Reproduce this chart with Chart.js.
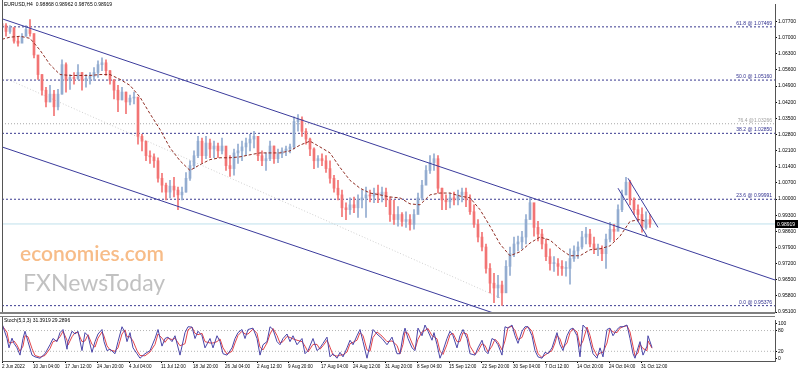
<!DOCTYPE html>
<html>
<head>
<meta charset="utf-8">
<script src="https://cdn.jsdelivr.net/npm/chart.js@4.4.0/dist/chart.umd.min.js"></script>
<style>
  html, body { margin: 0; padding: 0; background: #fff; }
  #wrap { position: relative; width: 798px; height: 372px; overflow: hidden; }
  #main { position: absolute; left: 0; top: 0; }
  #stoch { position: absolute; left: 0; top: 316px; }
</style>
</head>
<body>
<div id="wrap">
  <canvas id="main" width="798" height="316"></canvas>
  <canvas id="stoch" width="798" height="56"></canvas>
</div>
<script>
// EURUSD H4, one candle here = 4 bars of the original chart

const highs = [
  1.0765,1.0761,1.0752,1.0727,1.0706,1.0718,1.0752,1.0778,1.0706,1.0621,
  1.0540,1.0485,1.0493,1.0472,1.0476,1.0604,1.0591,1.0540,1.0549,1.0583,
  1.0549,1.0540,1.0549,1.0570,1.0600,1.0612,1.0604,1.0557,1.0519,1.0493,
  1.0485,1.0464,1.0451,1.0464,1.0442,1.0281,1.0251,1.0209,1.0196,1.0179,
  1.0111,1.0069,1.0081,1.0094,1.0052,1.0052,1.0115,1.0166,1.0209,1.0272,
  1.0264,1.0272,1.0260,1.0251,1.0243,1.0264,1.0217,1.0188,1.0217,1.0238,
  1.0251,1.0264,1.0281,1.0294,1.0251,1.0209,1.0200,1.0251,1.0230,1.0217,
  1.0222,1.0230,1.0238,1.0357,1.0366,1.0357,1.0306,1.0264,1.0222,1.0188,
  1.0196,1.0188,1.0166,1.0103,1.0081,1.0039,0.9984,1.0005,1.0009,1.0018,
  1.0039,1.0052,1.0039,1.0047,1.0060,1.0052,1.0047,1.0009,0.9996,0.9967,
  0.9941,0.9945,0.9933,0.9954,1.0026,1.0081,1.0145,1.0188,1.0196,1.0188,
  1.0047,1.0018,1.0026,1.0030,1.0039,1.0047,1.0047,1.0018,0.9975,0.9911,
  0.9856,0.9805,0.9720,0.9678,0.9669,0.9644,0.9733,0.9792,0.9835,0.9839,
  0.9860,0.9933,1.0005,0.9975,0.9903,0.9869,0.9826,0.9784,0.9750,0.9742,
  0.9733,0.9729,0.9784,0.9797,0.9814,0.9860,0.9877,0.9869,0.9835,0.9805,
  0.9797,0.9848,0.9899,0.9890,0.9975,1.0039,1.0094,1.0081,1.0005,0.9975,
  0.9962,0.9945,0.9933
];
const lows = [
  1.0731,1.0706,1.0718,1.0676,1.0663,1.0685,1.0706,1.0706,1.0612,1.0519,
  1.0451,1.0400,1.0421,1.0362,1.0387,1.0455,1.0464,1.0476,1.0498,1.0519,
  1.0472,1.0485,1.0498,1.0515,1.0527,1.0557,1.0536,1.0498,1.0434,1.0379,
  1.0430,1.0370,1.0408,1.0413,1.0238,1.0209,1.0166,1.0154,1.0137,1.0073,
  1.0030,0.9996,1.0005,1.0009,0.9954,0.9996,1.0030,1.0081,1.0132,1.0179,
  1.0158,1.0175,1.0179,1.0179,1.0179,1.0196,1.0124,1.0098,1.0103,1.0154,
  1.0166,1.0188,1.0209,1.0222,1.0166,1.0145,1.0124,1.0166,1.0154,1.0158,
  1.0179,1.0188,1.0200,1.0217,1.0294,1.0272,1.0238,1.0188,1.0132,1.0137,
  1.0145,1.0115,1.0069,1.0030,0.9996,0.9924,0.9911,0.9933,0.9941,0.9920,
  0.9962,0.9920,0.9988,0.9984,0.9984,0.9988,0.9967,0.9903,0.9890,0.9882,
  0.9882,0.9877,0.9865,0.9869,0.9941,0.9996,1.0069,1.0111,1.0124,1.0026,
  0.9954,0.9954,0.9962,0.9975,0.9975,0.9988,0.9967,0.9933,0.9877,0.9814,
  0.9775,0.9678,0.9593,0.9550,0.9572,0.9538,0.9635,0.9669,0.9750,0.9775,
  0.9784,0.9805,0.9933,0.9839,0.9818,0.9784,0.9733,0.9691,0.9686,0.9669,
  0.9669,0.9665,0.9631,0.9729,0.9742,0.9784,0.9805,0.9792,0.9763,0.9754,
  0.9733,0.9699,0.9814,0.9818,0.9877,0.9945,1.0018,0.9975,0.9933,0.9903,
  0.9856,0.9869,0.9877
];
const closes = [
  1.0752,1.0727,1.0744,1.0685,1.0676,1.0706,1.0735,1.0718,1.0625,1.0540,
  1.0472,1.0421,1.0455,1.0400,1.0455,1.0583,1.0515,1.0527,1.0523,1.0549,
  1.0515,1.0523,1.0532,1.0549,1.0583,1.0591,1.0557,1.0515,1.0472,1.0430,
  1.0464,1.0421,1.0438,1.0442,1.0272,1.0251,1.0188,1.0183,1.0166,1.0090,
  1.0060,1.0030,1.0056,1.0039,1.0018,1.0030,1.0090,1.0145,1.0188,1.0251,
  1.0188,1.0243,1.0217,1.0230,1.0209,1.0230,1.0145,1.0132,1.0200,1.0209,
  1.0226,1.0243,1.0260,1.0272,1.0188,1.0166,1.0175,1.0230,1.0175,1.0196,
  1.0209,1.0217,1.0226,1.0336,1.0345,1.0294,1.0260,1.0217,1.0166,1.0175,
  1.0166,1.0132,1.0090,1.0047,1.0018,0.9962,0.9954,0.9975,0.9962,0.9996,
  1.0005,1.0018,1.0013,1.0026,1.0018,1.0030,0.9996,0.9933,0.9911,0.9933,
  0.9903,0.9911,0.9890,0.9933,1.0005,1.0060,1.0124,1.0158,1.0175,1.0047,
  0.9996,0.9988,1.0005,0.9996,1.0018,1.0030,0.9996,0.9945,0.9890,0.9835,
  0.9792,0.9699,0.9635,0.9614,0.9627,0.9593,0.9708,0.9763,0.9805,0.9814,
  0.9835,0.9911,0.9984,0.9877,0.9848,0.9805,0.9750,0.9720,0.9720,0.9708,
  0.9699,0.9699,0.9742,0.9775,0.9792,0.9835,0.9848,0.9805,0.9784,0.9784,
  0.9763,0.9826,0.9869,0.9860,0.9954,1.0018,1.0073,0.9996,0.9954,0.9933,
  0.9877,0.9911,0.98919
];
const firstOpen = 1.0761;
const barsPerCandle = 4;

// moving average (dashed brown), read at bar positions
const maBars = [0,8,18,28,38,48,58,68,78,88,98,108,118,128,138,148,158,168,178,188,
  198,208,218,228,238,248,258,268,278,288,298,308,318,328,338,348,358,368,378,388,
  398,408,418,428,438,448,458,468,478,488,498,508,518,528,538,548,558,568,578,588,
  598,608,618,628,638,644];
const maValues = [1.0693,1.0702,1.0706,1.0697,1.0646,1.0583,1.0540,1.0536,1.0536,1.0536,
  1.0540,1.0540,1.0519,1.0493,1.0442,1.0370,1.0302,1.0222,1.0166,1.0124,
  1.0149,1.0171,1.0179,1.0179,1.0183,1.0192,1.0200,1.0200,1.0200,1.0209,
  1.0234,1.0251,1.0226,1.0200,1.0137,1.0081,1.0047,1.0026,1.0018,1.0009,
  1.0005,0.9979,0.9975,1.0018,1.0026,1.0026,1.0013,1.0005,0.9954,0.9882,
  0.9805,0.9754,0.9771,0.9809,0.9835,0.9822,0.9784,0.9754,0.9754,0.9780,
  0.9784,0.9797,0.9839,0.9903,0.9911,0.9903];

// trend lines: [bar0, price0, bar1, price1]
const channelUpper = [0, 1.0782, 773, 0.9649];
const channelLower = [0, 1.0226, 773, 0.9093];
const wedgeA = [616, 1.0047, 645, 0.9839];
const wedgeB = [626, 1.0090, 656, 0.9877];
const fibDiagonal = [6, 1.0519, 498, 0.9572];

// fibonacci levels
const fibLevels = [1.07469, 1.05160, 1.02850, 0.99991, 0.95376];
const fibNames = ['61.8 @ 1.07469', '50.0 @ 1.05160', '38.2 @ 1.02850', '23.6 @ 0.99991', '0.0 @ 0.95376'];
const fibGrayLevel = 1.03266;
const fibGrayName = '76.4 @1.03266';
const lastPrice = 0.98919;

const priceTicks = [1.077,1.070,1.063,1.056,1.049,1.042,1.035,1.028,1.021,1.014,
  1.007,1.000,0.993,0.986,0.979,0.972,0.965,0.958,0.951];

const timeTickBars = [0,31,63,95,127,159,191,223,255,286,319,351,383,415,447,480,511,543,575,607,639];
const timeTickText = ['2 Jun 2022','10 Jun 04:00','17 Jun 12:00','24 Jun 20:00','4 Jul 04:00',
  '11 Jul 12:00','18 Jul 20:00','26 Jul 04:00','2 Aug 12:00','9 Aug 20:00','17 Aug 04:00',
  '24 Aug 12:00','31 Aug 20:00','8 Sep 04:00','15 Sep 12:00','22 Sep 20:00','30 Sep 04:00',
  '7 Oct 12:00','14 Oct 20:00','24 Oct 04:00','31 Oct 12:00'];

// stochastic (5,3,3)
const stochBars = [0,5,7,10,12,15,18,21,23,26, 30,33,38,43,48,51,55,58,61,65,
  66,70,73,76,80,83,86,90,93,96, 100,102,105,108,113,116,120,123,125,128,
  131,135,138,143,148,153,156,160,163,166, 170,173,178,183,186,190,193,196,200,203,
  208,211,215,218,221,225,230,233,236,240, 243,246,251,255,258,261,265,268,271,275,
  278,281,285,288,291,295,300,303,306,311, 315,318,321,325,328,331,335,338,341,345,
  348,351,355,358,361,365,368,371,375,380, 385,390,395,398,401,403,406,410,413,416,
  420,423,426,430,432,435,438,441,445,448, 451,455,458,461,465,468,473,476,480,483,
  486,490,493,496,500,503,506,510,513,516, 520,523,526,530,533,536,540,543,546,550,
  553,555,558,561,565,568,571,575,578,581, 585,588,591,595,598,601,605,608,611,615,
  618,621,625,628,631,633,636,638,641,645, 646,650];
const stochMain = [100,57,30,58,43,30,9,57,78,48, 9,4,0,13,39,57,48,74,83,26,
  48,78,70,78,22,74,65,17,48,70, 83,48,22,26,13,48,91,74,48,74,
  30,13,0,13,22,57,83,35,57,61, 48,65,9,74,91,90,57,78,65,30,
  57,30,65,48,13,9,30,57,74,83, 57,83,87,57,9,39,48,91,83,48,
  39,57,70,48,65,39,57,13,22,57, 22,30,43,61,4,13,0,17,4,30,
  52,39,65,83,48,0,39,83,70,57, 39,61,13,13,65,87,57,30,22,87,
  65,96,78,52,74,39,0,22,57,78, 65,30,65,83,57,13,9,30,52,22,
  13,57,52,39,9,91,87,96,65,43, 78,91,91,65,22,4,0,17,13,30,
  57,74,39,22,65,83,87,65,4,96, 83,48,13,0,30,4,83,87,65,83,
  91,91,96,57,13,0,30,48,9,35, 65,31];
const stochSignal = [95,75,45,45,50,38,20,35,65,62, 28,8,3,8,28,48,52,62,78,52,
  38,62,74,74,48,50,68,40,32,58, 76,64,36,24,20,30,70,82,62,62,
  50,22,8,7,18,40,70,58,46,58, 54,58,36,42,82,90,72,68,72,48,
  44,44,48,56,30,12,20,44,66,78, 70,70,84,72,32,24,44,70,86,66,
  44,48,63,60,56,52,48,35,18,40, 40,26,36,52,32,9,6,9,10,18,
  42,46,52,74,66,24,20,60,76,64, 48,50,37,13,40,76,72,44,26,55,
  76,80,86,65,62,56,20,11,40,68, 72,48,48,74,70,35,11,20,42,37,
  18,35,55,46,24,50,89,92,80,54, 60,85,91,78,44,13,2,9,15,22,
  44,66,56,30,44,74,85,76,34,50, 90,66,30,7,15,17,44,85,76,74,
  87,91,94,76,35,6,15,40,28,22, 50,29];
const stochLevels = [20, 80];
const stochTicks = [0, 20, 80, 100];

Chart.defaults.font.family = '"Liberation Sans", Arial, sans-serif';
Chart.defaults.color = '#000';

const upColor = '#93acd0';
const downColor = '#f27474';
const lineBlue = '#3b3b9c';
const xMax = 773;

const opens = [firstOpen].concat(closes.slice(0, -1));
const candleColors = closes.map((c, i) => c >= opens[i] ? upColor : downColor);
const wickData = highs.map((h, i) => ({ x: i * barsPerCandle, y: [lows[i], h] }));
const bodyData = closes.map((c, i) => ({ x: i * barsPerCandle, y: [opens[i], c] }));

function segment(s) {
  return [{ x: s[0], y: s[1] }, { x: s[2], y: s[3] }];
}
function flat(v) {
  return [{ x: 0, y: v }, { x: xMax, y: v }];
}
function lineSet(data, color, dash, order) {
  return { type: 'line', data: data, borderColor: color, borderWidth: 1, borderDash: dash || [],
    pointRadius: 0, fill: false, tension: 0, order: order };
}

const mainDecor = {
  id: 'mainDecor',
  beforeDatasetsDraw(chart) {
    const ctx = chart.ctx;
    ctx.save();
    ctx.textBaseline = 'alphabetic';
    ctx.font = '600 21px Lato, sans-serif';
    ctx.fillStyle = 'rgba(243,160,85,0.7)';
    ctx.fillText('economies.com', 20, 261);
    ctx.font = '23px Lato, sans-serif';
    ctx.fillStyle = 'rgba(160,160,160,0.65)';
    ctx.fillText('FXNewsToday', 23, 291);
    ctx.restore();
  },
  afterDatasetsDraw(chart) {
    const ctx = chart.ctx;
    const y = chart.scales.y;
    const a = chart.chartArea;
    ctx.save();
    ctx.font = '5px "Liberation Sans", Arial, sans-serif';
    ctx.textAlign = 'right';
    ctx.textBaseline = 'bottom';
    ctx.fillStyle = '#2e2e8e';
    fibLevels.forEach((lv, i) => ctx.fillText(fibNames[i], a.right - 3, y.getPixelForValue(lv) - 1));
    ctx.fillStyle = '#a0a0a0';
    ctx.fillText(fibGrayName, a.right - 3, y.getPixelForValue(fibGrayLevel) - 1);

    ctx.textAlign = 'left';
    ctx.textBaseline = 'middle';
    ctx.fillStyle = '#000';
    ctx.fillText('EURUSD,H4  0.98868 0.98962 0.98765 0.98919', 4, 5);

    // left frame and separator to the lower panel
    ctx.strokeStyle = '#555';
    ctx.lineWidth = 1;
    ctx.beginPath();
    ctx.moveTo(a.left + 0.5, 0);
    ctx.lineTo(a.left + 0.5, a.bottom);
    ctx.stroke();
    ctx.fillStyle = '#808080';
    ctx.fillRect(0, a.bottom, a.right, 2);

    // last price marker on the axis
    const py = Math.round(y.getPixelForValue(lastPrice));
    ctx.fillStyle = '#000';
    ctx.fillRect(a.right, py - 4, chart.width - a.right, 8);
    ctx.fillStyle = '#fff';
    ctx.font = '5px "Liberation Sans", Arial, sans-serif';
    ctx.fillText(lastPrice.toFixed(5), a.right + 2, py + 0.5);
    ctx.restore();
  }
};

new Chart(document.getElementById('main'), {
  type: 'bar',
  data: {
    datasets: [
      lineSet(flat(lastPrice), '#bfe0ec', [], 20),
      lineSet(segment(fibDiagonal), '#cfcfcf', [1, 2], 19),
      lineSet(flat(fibGrayLevel), '#a8a8a8', [1, 2], 18),
      ...fibLevels.map(lv => lineSet(flat(lv), '#3a3a90', [2, 2], 17)),
      { type: 'bar', data: wickData, backgroundColor: candleColors, barThickness: 1,
        grouped: false, order: 12, minBarLength: 1 },
      { type: 'bar', data: bodyData, backgroundColor: candleColors, barThickness: 2,
        grouped: false, order: 11, minBarLength: 1 },
      lineSet(maBars.map((b, i) => ({ x: b, y: maValues[i] })), '#8e2b22', [3, 2], 3),
      lineSet(segment(channelUpper), lineBlue, [], 2),
      lineSet(segment(channelLower), lineBlue, [], 2),
      lineSet(segment(wedgeA), lineBlue, [], 2),
      lineSet(segment(wedgeB), lineBlue, [], 2)
    ]
  },
  options: {
    responsive: false,
    animation: false,
    layout: { padding: { left: 2, top: 0, bottom: 2, right: 0 } },
    plugins: { legend: { display: false }, tooltip: { enabled: false } },
    scales: {
      x: { type: 'linear', min: 0, max: xMax, offset: false, display: false },
      y: {
        type: 'linear', position: 'right', min: 0.9510, max: 1.0846, beginAtZero: false,
        afterBuildTicks: s => { s.ticks = priceTicks.map(v => ({ value: v })); },
        afterFit: s => { s.width = 23; },
        ticks: { font: { size: 5 }, color: '#000', padding: 1, callback: v => v.toFixed(5) },
        grid: { drawOnChartArea: false, tickLength: 2, color: '#000' },
        border: { color: '#555' }
      }
    }
  },
  plugins: [mainDecor]
});

const stochDecor = {
  id: 'stochDecor',
  afterDatasetsDraw(chart) {
    const ctx = chart.ctx;
    const a = chart.chartArea;
    ctx.save();
    ctx.strokeStyle = '#555';
    ctx.lineWidth = 1;
    ctx.beginPath();
    ctx.moveTo(a.left + 0.5, 0);
    ctx.lineTo(a.left + 0.5, a.bottom);
    ctx.stroke();
    ctx.fillStyle = '#808080';
    ctx.fillRect(0, 0, a.right, 1);
    ctx.font = '5px "Liberation Sans", Arial, sans-serif';
    ctx.fillStyle = '#000';
    ctx.textBaseline = 'middle';
    ctx.fillText('Stoch(5,3,3) 31.3919 29.2896', 4, 5);
    ctx.restore();
  }
};

new Chart(document.getElementById('stoch'), {
  type: 'line',
  data: {
    datasets: [
      ...stochLevels.map(lv => lineSet(flat(lv), '#b4b4b4', [1, 2], 5)),
      lineSet(stochBars.map((b, i) => ({ x: b, y: stochSignal[i] })), '#e2454b', [], 2),
      lineSet(stochBars.map((b, i) => ({ x: b, y: stochMain[i] })), '#4a45a8', [], 1)
    ]
  },
  options: {
    responsive: false,
    animation: false,
    layout: { padding: { left: 2, top: 0, bottom: 0, right: 0 } },
    plugins: { legend: { display: false }, tooltip: { enabled: false } },
    scales: {
      x: {
        type: 'linear', min: 0, max: xMax,
        afterBuildTicks: s => { s.ticks = timeTickBars.map(v => ({ value: v })); },
        afterFit: s => { s.height = 11; },
        ticks: { font: { size: 4.6 }, color: '#000', padding: 1, align: 'start',
          autoSkip: false, maxRotation: 0,
          callback: (v, i) => timeTickText[i] },
        grid: { drawOnChartArea: false, tickLength: 2, color: '#000' },
        border: { color: '#555' }
      },
      y: {
        type: 'linear', position: 'right', min: -8, max: 110.5,
        afterBuildTicks: s => { s.ticks = stochTicks.map(v => ({ value: v })); },
        afterFit: s => { s.width = 23; },
        ticks: { font: { size: 5 }, color: '#000', padding: 1 },
        grid: { drawOnChartArea: false, tickLength: 2, color: '#000' },
        border: { color: '#555' }
      }
    }
  },
  plugins: [stochDecor]
});
</script>
</body>
</html>
